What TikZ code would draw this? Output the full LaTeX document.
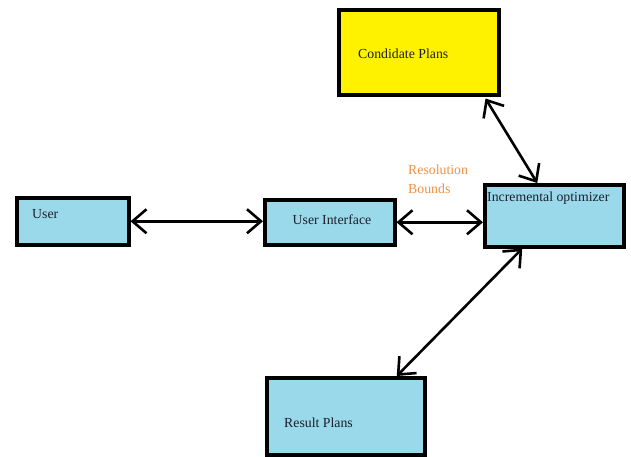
\documentclass[tikz,border=0pt]{standalone}
\usepackage{fontspec}
\setmainfont{Liberation Serif}
\usetikzlibrary{arrows.meta,calc}
\definecolor{boxblue}{RGB}{153,217,234}
\definecolor{boxyellow}{RGB}{255,242,0}
\definecolor{labelorange}{RGB}{240,145,70}
\definecolor{textdark}{RGB}{30,30,45}
\tikzset{
  box/.style={draw=black, line width=3.5pt, fill=boxblue, anchor=north west, inner sep=0pt},
  ybox/.style={box, fill=boxyellow},
  boxtext/.style={text=textdark, font=\fontsize{13.8}{15}\selectfont, inner sep=0pt},
  tip/.style={Straight Barb[length=14pt,width=24pt,line width=2.6pt]},
  link/.style={line width=2.6pt, {Straight Barb[length=14pt,width=24pt,line width=2.6pt]}-{Straight Barb[length=14pt,width=24pt,line width=2.6pt]}}
}
\begin{document}
\begin{tikzpicture}[x=1pt,y=-1pt]
  \useasboundingbox[fill=white] (0,0) rectangle (631,456);

  % boxes
  \node[ybox, minimum width=160pt, minimum height=85pt] (cand) at (337,8) {};
  \node[box, minimum width=112pt, minimum height=47pt] (user) at (15,196) {};
  \node[box, minimum width=130pt, minimum height=45pt] (ui) at (263,198) {};
  \node[box, minimum width=139pt, minimum height=62pt] (opt) at (483,183) {};
  \node[box, minimum width=158pt, minimum height=77pt] (res) at (265,376) {};

  % box captions
  \node[boxtext, anchor=west] (candtxt) at (358,54) {Condidate Plans};
  \node[boxtext, anchor=west] (usertxt) at (32,214) {User};
  \node[boxtext] (uitxt) at (332,220) {User Interface};
  \node[boxtext, anchor=west] (opttxt) at (487,198) {Incremental optimizer};
  \node[boxtext, anchor=west] (restxt) at (284,423) {Result Plans};

  % label on the interface link
  \node[text=labelorange, font=\fontsize{13.8}{15}\selectfont, align=left, anchor=north west, inner sep=0pt] (bounds) at (408,165) {Resolution\\[4pt]Bounds};

  % connectors
  \draw[link] (user.east) -- (ui.west |- user.east);
  \draw[link] (ui.east) -- (opt.west |- ui.east);
  \draw[link] ($(cand.south east)+(-15,2)$) -- ([xshift=-17pt]opt.north);
  \draw[link] ([xshift=-32pt]opt.south) -- ([xshift=51pt]res.north);
\end{tikzpicture}
\end{document}
